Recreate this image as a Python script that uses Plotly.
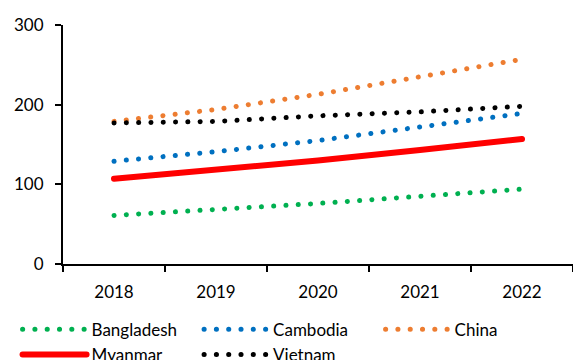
import plotly.graph_objects as go

years = ["2018", "2019", "2020", "2021", "2022"]
bangladesh = [61, 68, 76, 85, 94]
cambodia = [129, 141, 155, 172, 189]
china = [179, 194, 213, 235, 257]
myanmar = [107, 118, 130, 143, 157]
vietnam = [177, 179, 186, 191, 198]

series = [
    ("Bangladesh", bangladesh, "#00B050", "dot"),
    ("Cambodia", cambodia, "#0070C0", "dot"),
    ("China", china, "#ED7D31", "dot"),
    ("Myanmar", myanmar, "#FF0000", "solid"),
    ("Vietnam", vietnam, "#000000", "dot"),
]

FONT = "Lato"
fig = go.Figure()
for name, vals, color, style in series:
    if style == "dot":
        line = dict(color=color, width=5, dash="0.1px,12.2px")
    else:
        line = dict(color=color, width=6)
    fig.add_trace(go.Scatter(x=years, y=vals, name=name, mode="lines", line=line))

fig.update_layout(
    width=573, height=360,
    margin=dict(l=63, r=0, t=25, b=96, autoexpand=False),
    paper_bgcolor="white", plot_bgcolor="white",
    font=dict(family=FONT, size=17, color="#000000"),
    showlegend=True,
    legend=dict(
        orientation="h", xref="paper", yref="paper",
        x=-0.093, y=-0.200, xanchor="left", yanchor="top",
        entrywidth=100.5, entrywidthmode="pixels", itemwidth=66,
        font=dict(family=FONT, size=17, color="#000000"),
        bgcolor="rgba(0,0,0,0)", tracegroupgap=0,
    ),
)
fig.update_xaxes(
    type="category", range=[-0.5, 4.5], automargin=False,
    showline=True, linecolor="#000000", linewidth=2,
    ticks="outside", tickson="boundaries", ticklen=6, tickcolor="#000000", tickwidth=2,
    showgrid=False, zeroline=False, ticklabelstandoff=12,
    tickfont=dict(family=FONT, size=17, color="#000000"),
)
fig.update_yaxes(
    range=[0, 300], tickvals=[0, 100, 200, 300], automargin=False,
    showline=True, linecolor="#000000", linewidth=2,
    ticks="outside", ticklen=6, tickcolor="#000000", tickwidth=2,
    showgrid=False, zeroline=False, ticklabelstandoff=8,
    tickfont=dict(family=FONT, size=17, color="#000000"),
)

post = """
document.body.style.margin='0';
document.body.style.padding='0';
var gd = document.getElementById('{plot_id}');
function fixLines(){
  document.querySelectorAll('.scatterlayer .js-line').forEach(function(p){ p.style.strokeLinecap='round'; });
  document.querySelectorAll('.legendlines path').forEach(function(p){
    p.style.strokeLinecap='round';
    p.setAttribute('d','M7,0h64');
  });
}
fixLines();
gd.on('plotly_afterplot', fixLines);
"""
fig.write_html("out.html", post_script=post, config={"displayModeBar": False})
